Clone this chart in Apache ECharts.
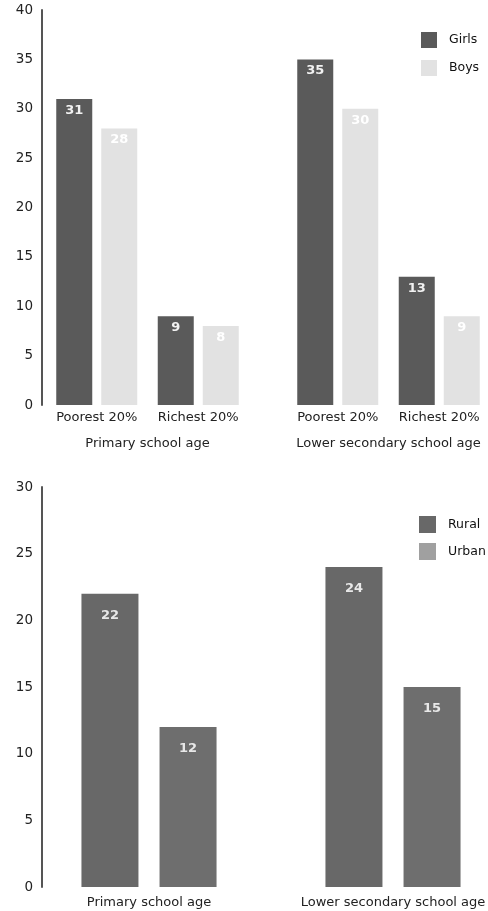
<!DOCTYPE html>
<html>
<head>
<meta charset="utf-8">
<script src="https://cdn.jsdelivr.net/npm/echarts@6/dist/echarts.min.js"></script>
<style>
  html, body { margin: 0; padding: 0; background: #fff; }
  #chart { width: 488px; height: 911px; }
</style>
</head>
<body>
<div id="chart"></div>
<script>
// Wealth groups shown in the upper panel
const wealthGroups = ['Poorest 20%', 'Richest 20%'];
const primaryGirls = [31, 9];
const primaryBoys = [28, 8];
const secondaryGirls = [35, 13];
const secondaryBoys = [30, 9];

// Location groups shown in the lower panel
const primaryAge = ['Primary school age'];
const secondaryAge = ['Lower secondary school age'];
const primaryRural = [22];
const primaryUrban = [12];
const secondaryRural = [24];
const secondaryUrban = [15];

const FONT = '"DejaVu Sans", sans-serif';
const AXIS_COLOR = '#555';
const GIRLS = '#5a5a5a';
const BOYS = '#e2e2e2';
const RURAL = '#686868';
const URBAN_BAR = '#6e6e6e';
const URBAN_KEY = '#a0a0a0';

const chart = echarts.init(document.getElementById('chart'), null, { renderer: 'canvas' });

function valueAxis(gridIndex, max, visible) {
  return {
    type: 'value', gridIndex, min: 0, max, interval: 5, show: visible, offset: 4,
    axisLine: { show: true, lineStyle: { color: AXIS_COLOR, width: 2 } },
    axisTick: { show: false },
    splitLine: { show: false },
    axisLabel: { color: '#222', fontSize: 13.5, fontFamily: FONT, margin: 9 }
  };
}

function categoryAxis(gridIndex, data, name, labelMargin) {
  return {
    type: 'category', gridIndex, data,
    axisLine: { show: false }, axisTick: { show: false },
    axisLabel: { color: '#222', fontSize: 13, fontFamily: FONT, margin: labelMargin, interval: 0, hideOverlap: false },
    name, nameLocation: 'middle', nameGap: 32,
    nameTextStyle: { color: '#222', fontSize: 13, fontFamily: FONT }
  };
}

function barLabel(color, distance) {
  return { show: true, position: 'insideTop', distance, color, fontSize: 13, fontWeight: 'bold', fontFamily: FONT };
}

function panel(left, width, top, height) {
  return { left, width, top, height, outerBoundsMode: 'none', containLabel: false };
}

const option = {
  backgroundColor: '#fff',
  animation: false,
  grid: [
    panel(46, 203, 10, 395),
    panel(287, 203, 10, 395),
    panel(46, 206, 487, 400),
    panel(300, 186, 487, 400)
  ],
  xAxis: [
    categoryAxis(0, wealthGroups, 'Primary school age', 6),
    categoryAxis(1, wealthGroups, 'Lower secondary school age', 6),
    categoryAxis(2, primaryAge, '', 9),
    categoryAxis(3, secondaryAge, '', 9)
  ],
  yAxis: [
    valueAxis(0, 40, true),
    valueAxis(1, 40, false),
    valueAxis(2, 30, true),
    valueAxis(3, 30, false)
  ],
  legend: [
    {
      data: ['Girls', 'Boys'], left: 416, top: 27, orient: 'vertical',
      icon: 'rect', itemWidth: 16, itemHeight: 16, itemGap: 12,
      textStyle: { color: '#111', fontSize: 12.5, fontFamily: FONT, padding: [0, 0, 0, 7] }
    },
    {
      data: [{ name: 'Rural' }, { name: 'Urban', itemStyle: { color: URBAN_KEY } }],
      left: 414, top: 511, orient: 'vertical',
      icon: 'rect', itemWidth: 17, itemHeight: 17, itemGap: 10,
      textStyle: { color: '#111', fontSize: 12.5, fontFamily: FONT, padding: [0, 0, 0, 7] }
    }
  ],
  series: [
    { name: 'Girls', type: 'bar', xAxisIndex: 0, yAxisIndex: 0, data: primaryGirls, barWidth: 36, barGap: '25%',
      itemStyle: { color: GIRLS }, label: barLabel('#f2f2f2', 5) },
    { name: 'Boys', type: 'bar', xAxisIndex: 0, yAxisIndex: 0, data: primaryBoys, barWidth: 36, barGap: '25%',
      itemStyle: { color: BOYS }, label: barLabel('#ffffff', 5) },
    { name: 'Girls', type: 'bar', xAxisIndex: 1, yAxisIndex: 1, data: secondaryGirls, barWidth: 36, barGap: '25%',
      itemStyle: { color: GIRLS }, label: barLabel('#f2f2f2', 5) },
    { name: 'Boys', type: 'bar', xAxisIndex: 1, yAxisIndex: 1, data: secondaryBoys, barWidth: 36, barGap: '25%',
      itemStyle: { color: BOYS }, label: barLabel('#ffffff', 5) },
    { name: 'Rural', type: 'bar', xAxisIndex: 2, yAxisIndex: 2, data: primaryRural, barWidth: 57, barGap: '37%',
      itemStyle: { color: RURAL }, label: barLabel('#e8e8e8', 15) },
    { name: 'Urban', type: 'bar', xAxisIndex: 2, yAxisIndex: 2, data: primaryUrban, barWidth: 57, barGap: '37%',
      itemStyle: { color: URBAN_BAR }, label: barLabel('#e8e8e8', 15) },
    { name: 'Rural', type: 'bar', xAxisIndex: 3, yAxisIndex: 3, data: secondaryRural, barWidth: 57, barGap: '37%',
      itemStyle: { color: RURAL }, label: barLabel('#e8e8e8', 15) },
    { name: 'Urban', type: 'bar', xAxisIndex: 3, yAxisIndex: 3, data: secondaryUrban, barWidth: 57, barGap: '37%',
      itemStyle: { color: URBAN_BAR }, label: barLabel('#e8e8e8', 15) }
  ]
};

chart.setOption(option);
</script>
</body>
</html>
